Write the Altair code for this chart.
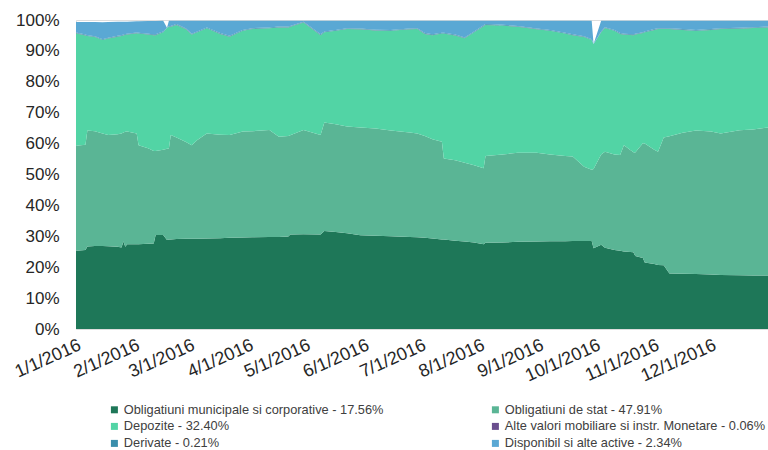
import altair as alt
import pandas as pd

dates = [
    "2016-01-01", "2016-01-06", "2016-01-07", "2016-01-11", "2016-01-15", "2016-01-18",
    "2016-01-23", "2016-01-25", "2016-01-26", "2016-01-27", "2016-01-28", "2016-02-02",
    "2016-02-03", "2016-02-08", "2016-02-11", "2016-02-12", "2016-02-16", "2016-02-18",
    "2016-02-19", "2016-02-20", "2016-02-23", "2016-02-28", "2016-03-02", "2016-03-05",
    "2016-03-10", "2016-03-17", "2016-03-22", "2016-03-29", "2016-04-03", "2016-04-12",
    "2016-04-17", "2016-04-22", "2016-04-23", "2016-04-30", "2016-05-09", "2016-05-11",
    "2016-05-17", "2016-05-23", "2016-05-30", "2016-06-07", "2016-06-15", "2016-06-25",
    "2016-06-29", "2016-07-03", "2016-07-07", "2016-07-12", "2016-07-13", "2016-07-19",
    "2016-07-24", "2016-07-29", "2016-08-03", "2016-08-04", "2016-08-13", "2016-08-21",
    "2016-08-31", "2016-09-07", "2016-09-15", "2016-09-19", "2016-09-25", "2016-09-29",
    "2016-09-30", "2016-10-04", "2016-10-06", "2016-10-11", "2016-10-14", "2016-10-16",
    "2016-10-21", "2016-10-22", "2016-10-26", "2016-10-27", "2016-11-01", "2016-11-03",
    "2016-11-06", "2016-11-09", "2016-11-16", "2016-11-23", "2016-12-01", "2016-12-06",
    "2016-12-16", "2016-12-23", "2016-12-31",
]

municipale = [
    25.3, 25.6, 26.7, 26.9, 26.9, 26.8, 26.6, 26.4, 28.3, 26.6, 27.4, 27.4,
    27.4, 27.6, 27.7, 30.4, 30.4, 28.8, 29.0, 29.0, 29.1, 29.2, 29.2, 29.2,
    29.3, 29.4, 29.5, 29.6, 29.7, 29.8, 29.8, 29.9, 30.6, 30.7, 30.6, 31.7,
    31.4, 31.0, 30.3, 30.2, 30.0, 29.8, 29.7, 29.5, 29.3, 29.0, 29.0, 28.6,
    28.3, 28.0, 27.4, 27.9, 28.0, 28.2, 28.3, 28.4, 28.4, 28.5, 28.5, 28.5,
    26.1, 27.3, 26.3, 25.6, 25.3, 25.1, 24.8, 23.6, 23.0, 21.5, 21.0, 20.7,
    20.6, 18.0, 17.9, 17.8, 17.6, 17.5, 17.4, 17.3, 17.3,
]

stat = [
    34.0, 34.0, 37.5, 37.1, 36.4, 36.0, 36.4, 36.9, 35.3, 37.2, 36.5, 35.9,
    32.1, 30.9, 29.9, 27.2, 27.6, 29.5, 29.4, 33.8, 32.9, 31.3, 30.3, 32.0,
    34.0, 33.5, 33.3, 34.3, 34.3, 34.6, 32.4, 32.6, 32.1, 33.7, 32.2, 35.1,
    34.9, 34.5, 34.9, 34.7, 34.2, 33.8, 33.6, 33.0, 32.1, 31.6, 26.2, 26.0,
    25.5, 25.0, 24.6, 28.1, 28.5, 28.8, 28.7, 28.1, 27.6, 27.3, 24.0, 23.0,
    25.7, 29.2, 31.1, 30.9, 31.0, 34.4, 32.4, 33.5, 37.1, 38.5, 37.0, 36.7,
    41.4, 44.4, 45.6, 46.4, 46.3, 45.8, 46.9, 47.3, 47.9,
]

depozite = [
    36.4, 35.4, 30.6, 30.5, 30.2, 31.2, 31.6, 31.5, 31.4, 31.4, 31.4, 32.4,
    36.1, 36.8, 37.5, 37.5, 38.0, 39.2, 39.4, 35.0, 36.4, 36.5, 35.8, 34.8,
    34.0, 32.6, 31.8, 32.6, 33.1, 32.9, 35.4, 35.1, 35.1, 34.8, 32.3, 29.2,
    30.2, 31.6, 31.8, 31.7, 32.3, 33.4, 33.8, 33.0, 33.7, 35.0, 40.4, 40.4,
    40.3, 43.0, 46.0, 42.4, 41.7, 40.8, 40.0, 40.0, 39.6, 39.3, 42.0, 42.0,
    40.4, 39.5, 40.0, 40.0, 39.2, 35.8, 37.9, 38.2, 35.7, 36.0, 38.8, 39.7,
    35.1, 34.7, 33.3, 32.3, 32.9, 33.8, 32.9, 32.8, 32.4,
]

alte = [0.06] * 17 + [0.0] + [0.06] * 42 + [0.0] + [0.06] * 20

derivate = [0.21] * 17 + [0.0] + [0.21] * 42 + [0.0] + [0.21] * 20

disponibil = [
    3.4, 4.1, 4.3, 4.6, 5.5, 5.1, 4.6, 4.4, 4.2, 4.0, 3.9, 3.6,
    3.7, 4.1, 4.3, 4.3, 3.5, 0.0, 1.7, 1.7, 1.1, 2.5, 4.2, 3.5,
    2.2, 4.0, 4.9, 3.0, 2.4, 2.2, 1.9, 1.9, 1.7, 0.3, 4.4, 3.5,
    3.0, 2.4, 2.5, 2.9, 3.0, 2.5, 2.4, 4.0, 4.4, 3.9, 3.9, 4.5,
    5.4, 3.5, 1.5, 1.1, 1.3, 1.7, 2.5, 3.0, 3.9, 4.4, 5.0, 6.0,
    0.0, 3.5, 2.1, 3.0, 4.0, 4.2, 4.4, 4.2, 3.7, 3.5, 2.7, 2.4,
    2.4, 2.4, 2.7, 3.0, 2.7, 2.4, 2.3, 2.1, 1.9,
]

names = [
    "Obligatiuni municipale si corporative - 17.56%",
    "Obligatiuni de stat - 47.91%",
    "Depozite - 32.40%",
    "Alte valori mobiliare si instr. Monetare - 0.06%",
    "Derivate - 0.21%",
    "Disponibil si alte active - 2.34%",
]
colors = ["#1E7758", "#5AB595", "#52D4A5", "#6A4E8E", "#3A8EAB", "#5AA8D4"]
series = [municipale, stat, depozite, alte, derivate, disponibil]

# legend is laid out column by column: left column 0,2,4 and right column 1,3,5
legend_order = [0, 2, 4, 1, 3, 5]
legend_names = [names[i] for i in legend_order]
legend_colors = [colors[i] for i in legend_order]

rows = []
for i, (name, vals) in enumerate(zip(names, series)):
    for d, v in zip(dates, vals):
        rows.append({"date": d + "T00:00:00", "series": name, "value": v, "order": i})
df = pd.DataFrame(rows)

font = "Liberation Sans"

chart = alt.Chart(df).mark_area(interpolate="linear").encode(
    x=alt.X(
        "date:T",
        scale=alt.Scale(
            domain=[alt.DateTime(year=2016, month=1, date=1), alt.DateTime(year=2016, month=12, date=31)],
            nice=False,
        ),
        axis=alt.Axis(
            title=None,
            values=[alt.DateTime(year=2016, month=m, date=1) for m in range(1, 13)],
            format="%-m/%-d/%Y",
            labelAngle=-24,
            labelAlign="right",
            labelBaseline="top",
            labelPadding=7,
            labelFont=font,
            labelFontSize=18,
            labelColor="#262626",
            ticks=False,
            domain=False,
            grid=False,
            labelOverlap=False,
            labelFlush=False,
        ),
    ),
    y=alt.Y(
        "value:Q",
        stack="zero",
        scale=alt.Scale(domain=[0, 100], nice=False),
        axis=alt.Axis(
            title=None,
            values=list(range(0, 101, 10)),
            labelExpr="datum.value + '%'",
            labelFont=font,
            labelFontSize=17,
            labelColor="#262626",
            labelPadding=17,
            ticks=False,
            domain=False,
            grid=False,
        ),
    ),
    color=alt.Color(
        "series:N",
        scale=alt.Scale(domain=legend_names, range=legend_colors),
        legend=alt.Legend(
            title=None,
            orient="none",
            legendX=32,
            legendY=383,
            columns=2,
            columnPadding=105,
            rowPadding=3,
            padding=0,
            symbolType="square",
            symbolSize=49,
            symbolStrokeWidth=0,
            symbolOpacity=1,
            labelFont=font,
            labelFontSize=12.8,
            labelColor="#404040",
            labelLimit=400,
            labelOffset=3,
        ),
    ),
    order=alt.Order("order:Q"),
).properties(
    width=692,
    height=309,
    autosize=alt.AutoSizeParams(type="none"),
    padding={"left": 76, "top": 20, "right": 0, "bottom": 121},
).configure_view(
    stroke="#BFBFBF", strokeWidth=1
).configure(background="white")

chart.save("out.html", embed_options={"renderer": "svg", "actions": False})
